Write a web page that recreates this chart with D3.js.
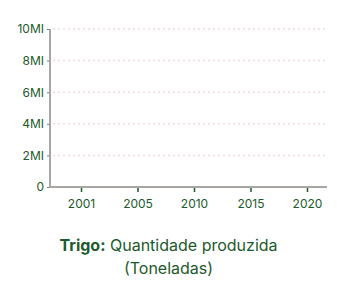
<!DOCTYPE html>
<html>
<head>
<meta charset="utf-8">
<script src="https://cdn.jsdelivr.net/npm/d3@7.9.0/dist/d3.min.js"></script>
<style>
  body { margin: 0; background: #fff; font-family: Inter, "Noto Sans", sans-serif; }
  .tick text { fill: #1d5a2c; font-size: 12px; font-family: Inter, sans-serif; }
</style>
</head>
<body>
<svg id="chart" width="337" height="298"></svg>
<script>
// chart data (no production values are plotted in the reference)
const years = ['2001', '2005', '2010', '2015', '2020'];
const yTicks = [0, 2e6, 4e6, 6e6, 8e6, 10e6];
const yTickLabels = ['0', '2MI', '4MI', '6MI', '8MI', '10MI'];
const titleBold = 'Trigo:';
const titleRest = ' Quantidade produzida';
const titleLine2 = '(Toneladas)';

const svg = d3.select('#chart');
const green = '#1d5a2c';

// plot area edges
const plotLeft = 50, plotRight = 327, plotTop = 29, plotBottom = 187;

const x = d3.scalePoint().domain(years).range([81, 307]);
const y = d3.scaleLinear().domain([0, 10e6]).range([plotBottom, plotTop]);

// dotted gridlines
svg.append('g')
  .selectAll('line')
  .data(yTicks.slice(1))
  .join('line')
  .attr('x1', plotLeft + 3).attr('x2', plotRight)
  .attr('y1', d => y(d)).attr('y2', d => y(d))
  .attr('stroke', '#eddde3')
  .attr('stroke-width', 1.5)
  .attr('stroke-dasharray', '2,3');

// y axis
const yAxis = svg.append('g')
  .attr('transform', `translate(${plotLeft},0)`)
  .call(d3.axisLeft(y).tickValues(yTicks)
    .tickFormat((d, i) => yTickLabels[i]).tickSize(3).tickPadding(3));
yAxis.select('.domain').remove();
yAxis.selectAll('.tick line').attr('stroke', '#4d8a5c');

// x axis
const xAxis = svg.append('g')
  .attr('transform', `translate(0,${plotBottom})`)
  .call(d3.axisBottom(x).tickSize(5).tickPadding(7));
xAxis.select('.domain').remove();
xAxis.selectAll('.tick line').attr('stroke', green).attr('stroke-width', 1.5);

// axis lines
svg.append('line')
  .attr('x1', plotLeft).attr('x2', plotLeft)
  .attr('y1', plotTop).attr('y2', plotBottom)
  .attr('stroke', '#aaa5a2').attr('stroke-width', 2);
svg.append('line')
  .attr('x1', plotLeft - 1).attr('x2', plotRight)
  .attr('y1', plotBottom).attr('y2', plotBottom)
  .attr('stroke', '#aaa5a2').attr('stroke-width', 2);

// title
const title = svg.append('text')
  .attr('x', 168.5).attr('y', 251)
  .attr('text-anchor', 'middle')
  .attr('fill', green)
  .style('font-size', '16px');
title.append('tspan').attr('font-weight', 'bold').text(titleBold);
title.append('tspan').text(titleRest);

svg.append('text')
  .attr('x', 168.5).attr('y', 274)
  .attr('text-anchor', 'middle')
  .attr('fill', green)
  .style('font-size', '16px')
  .text(titleLine2);
</script>
</body>
</html>
